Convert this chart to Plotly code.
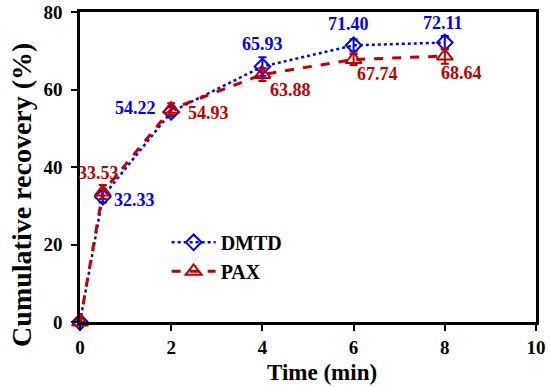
"""Cumulative recovery vs flotation time for DMTD and PAX collectors."""
import plotly.graph_objects as go

BLUE = "#0000FF"
RED = "#C00000"
FONT = "Liberation Serif, Times New Roman, serif"

time_min = [0, 0.5, 2, 4, 6, 8]
dmtd = [0, 32.33, 54.22, 65.93, 71.40, 72.11]
pax = [0, 33.53, 54.93, 63.88, 67.74, 68.64]
dmtd_err = [0, 1.5, 1.2, 2.4, 1.6, 1.7]
pax_err = [0, 1.8, 1.5, 1.7, 1.4, 2.0]

# value label offsets from the point, in px: (xshift, yshift)
dmtd_off = [None, (32, -3), (-36, 4), (0, 23), (-5, 21), (-2, 20)]
pax_off = [None, (-4, 19), (37, -4), (28, -16), (24, -14), (17, -17)]

fig = go.Figure()
fig.add_trace(go.Scatter(
    x=time_min, y=dmtd, mode="lines+markers", name="DMTD",
    line=dict(color=BLUE, width=2.5, dash="dot"),
    marker=dict(symbol="diamond-open", size=12, color=BLUE, line=dict(width=2)),
    error_y=dict(type="data", array=dmtd_err, color=BLUE, thickness=2, width=4),
    cliponaxis=False,
))
fig.add_trace(go.Scatter(
    x=time_min, y=pax, mode="lines+markers", name="PAX",
    line=dict(color=RED, width=3, dash="dash"),
    marker=dict(symbol="triangle-up-open", size=14, color=RED, line=dict(width=2)),
    error_y=dict(type="data", array=pax_err, color=RED, thickness=2, width=4),
    cliponaxis=False,
))

for vals, offs, color in [(dmtd, dmtd_off, BLUE), (pax, pax_off, RED)]:
    for x, y, o in zip(time_min, vals, offs):
        if o is None:
            continue
        fig.add_annotation(
            x=x, y=y, text=f"{y:.2f}", showarrow=False,
            xanchor="center", yanchor="middle", xshift=o[0], yshift=o[1],
            font=dict(family=FONT, size=18, color=color, weight="bold"),
        )

# axis titles placed by hand (the original sits a bit off-centre)
fig.add_annotation(
    x=0, y=0.41, xref="paper", yref="paper", xshift=-58, textangle=-90,
    xanchor="center", yanchor="middle",
    text="Cumulative recovery (%)", showarrow=False,
    font=dict(family=FONT, size=28, color="black", weight="bold"),
)
fig.add_annotation(
    x=0.531, y=0, xref="paper", yref="paper", yshift=-50,
    xanchor="center", yanchor="middle",
    text="Time (min)", showarrow=False,
    font=dict(family=FONT, size=23, color="black", weight="bold"),
)

axis_common = dict(
    showline=True, linecolor="black", linewidth=2.5, mirror=True,
    ticks="outside", ticklen=6, tickwidth=2, tickcolor="black",
    showgrid=False, zeroline=False, automargin=False,
    tickfont=dict(family=FONT, size=19, color="black", weight="bold"),
)
fig.update_xaxes(range=[0, 10], dtick=2, **axis_common)
fig.update_yaxes(range=[0, 80], dtick=20, ticklabelstandoff=5, **axis_common)
fig.update_layout(
    width=550, height=387,
    margin=dict(l=80, r=14, t=12, b=65, autoexpand=False),
    plot_bgcolor="white", paper_bgcolor="white",
    legend=dict(
        x=0.19, y=0.32, xanchor="left", yanchor="top",
        bgcolor="rgba(0,0,0,0)", tracegroupgap=8, itemwidth=44,
        font=dict(family=FONT, size=20, color="black", weight="bold"),
    ),
    showlegend=True,
)
fig.write_html(
    "out.html",
    config={"displayModeBar": False},
    post_script="document.body.style.margin='0';",
)
